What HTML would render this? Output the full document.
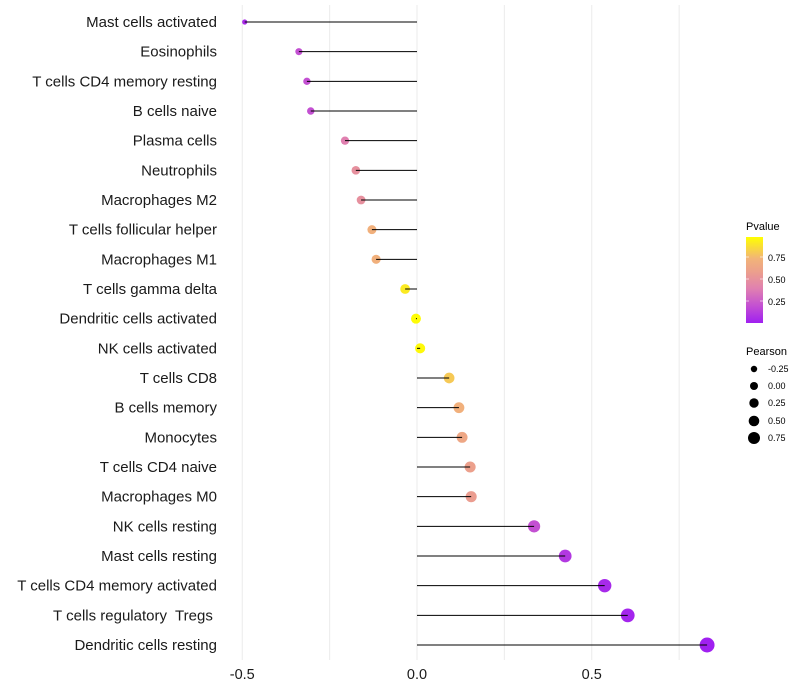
<!DOCTYPE html>
<html><head><meta charset="utf-8"><style>
body{margin:0;background:#fff;font-family:"Liberation Sans",sans-serif;}
svg{display:block}
text{white-space:pre}
</style></head><body>
<svg id="chart" width="800" height="700">
<defs><linearGradient id="pg" x1="0" y1="1" x2="0" y2="0">
<stop offset="0" stop-color="#A020F0"/><stop offset="0.2" stop-color="#C350D2"/>
<stop offset="0.4" stop-color="#E080B0"/><stop offset="0.6" stop-color="#ECA08C"/>
<stop offset="0.75" stop-color="#F2B478"/>
<stop offset="1" stop-color="#FFFF00"/></linearGradient></defs>
<g id="grid"></g><g id="marks"></g><g id="labels"></g>
<g>
<text x="746" y="230" font-size="11">Pvalue</text>
<rect x="746" y="237" width="17" height="86" fill="url(#pg)"/>
<line x1="746" y1="257" x2="749" y2="257" stroke="#fff" opacity=".6"/><line x1="760" y1="257" x2="763" y2="257" stroke="#fff" opacity=".6"/>
<line x1="746" y1="279" x2="749" y2="279" stroke="#fff" opacity=".6"/><line x1="760" y1="279" x2="763" y2="279" stroke="#fff" opacity=".6"/>
<line x1="746" y1="301" x2="749" y2="301" stroke="#fff" opacity=".6"/><line x1="760" y1="301" x2="763" y2="301" stroke="#fff" opacity=".6"/>
<text x="768" y="261" font-size="9">0.75</text><text x="768" y="283" font-size="9">0.50</text><text x="768" y="305" font-size="9">0.25</text>
</g>
<g>
<text x="746" y="355" font-size="11">Pearson</text>
<circle cx="754" cy="369" r="3.2"/><text x="768" y="372" font-size="9">-0.25</text>
<circle cx="754" cy="386" r="4"/><text x="768" y="389" font-size="9">0.00</text>
<circle cx="754" cy="403" r="4.7"/><text x="768" y="406" font-size="9">0.25</text>
<circle cx="754" cy="421" r="5.3"/><text x="768" y="424" font-size="9">0.50</text>
<circle cx="754" cy="438" r="6"/><text x="768" y="441" font-size="9">0.75</text>
</g>
</svg>
<script>
const cells=["Mast cells activated","Eosinophils","T cells CD4 memory resting","B cells naive","Plasma cells","Neutrophils","Macrophages M2","T cells follicular helper","Macrophages M1","T cells gamma delta","Dendritic cells activated","NK cells activated","T cells CD8","B cells memory","Monocytes","T cells CD4 naive","Macrophages M0","NK cells resting","Mast cells resting","T cells CD4 memory activated","T cells regulatory  Tregs ","Dendritic cells resting"];
const pearson=[-0.493,-0.338,-0.315,-0.304,-0.206,-0.175,-0.160,-0.129,-0.117,-0.034,-0.003,0.009,0.092,0.120,0.129,0.152,0.155,0.335,0.424,0.537,0.603,0.830];
const pvalue=[0.05,0.2,0.2,0.2,0.4,0.5,0.5,0.72,0.72,0.93,0.99,0.98,0.82,0.72,0.65,0.6,0.58,0.2,0.1,0.04,0.02,0.0];
const xTicks=[-0.5,0,0.5];
const xTickLabels=["-0.5","0.0","0.5"];
const minorTicks=[-0.25,0.25,0.75];
const NS="http://www.w3.org/2000/svg";
const xs=v=>417+v*349.5;
const ys=i=>22+i*29.667;
const rs=v=>Math.max(1.5,Math.sqrt(Math.max(0,25+37*v)));
const stops=[[0,[160,32,240]],[0.2,[195,80,210]],[0.4,[224,128,176]],[0.6,[236,160,140]],[0.75,[242,180,120]],[1,[255,255,0]]];
function col(p){for(let i=0;i<stops.length-1;i++){const [a,ca]=stops[i],[b,cb]=stops[i+1];if(p<=b){const t=(p-a)/(b-a);return "rgb("+ca.map((c,k)=>Math.round(c+(cb[k]-c)*t)).join(",")+")";}}return "rgb(255,255,0)";}
function mk(t,a,parent){const e=document.createElementNS(NS,t);for(const k in a)e.setAttribute(k,a[k]);parent.appendChild(e);return e;}
const grid=document.getElementById("grid"),marks=document.getElementById("marks"),labels=document.getElementById("labels");
[...xTicks,...minorTicks].forEach(v=>{const l=mk("line",{x1:xs(v),x2:xs(v),y1:5,y2:660,stroke:"#ebebeb","stroke-width":1},grid);

});
xTicks.forEach((v,i)=>{const t=mk("text",{x:xs(v),y:679,"font-size":14.5,"text-anchor":"middle",fill:"#1a1a1a"},labels);t.textContent=xTickLabels[i];

});
cells.forEach((c,i)=>{
 const y=ys(i);
 const t=mk("text",{x:217,y:y+5,"font-size":15,"text-anchor":"end",fill:"#1a1a1a"},labels);t.textContent=c;
 
 
 const d=mk("circle",{cx:xs(pearson[i]),cy:y,r:rs(pearson[i]),fill:col(pvalue[i])},marks);
 
 
 const s=mk("line",{x1:xs(0),x2:xs(pearson[i]),y1:y,y2:y,stroke:"#000","stroke-width":1},marks);
 
 
});
</script>
</body></html>
